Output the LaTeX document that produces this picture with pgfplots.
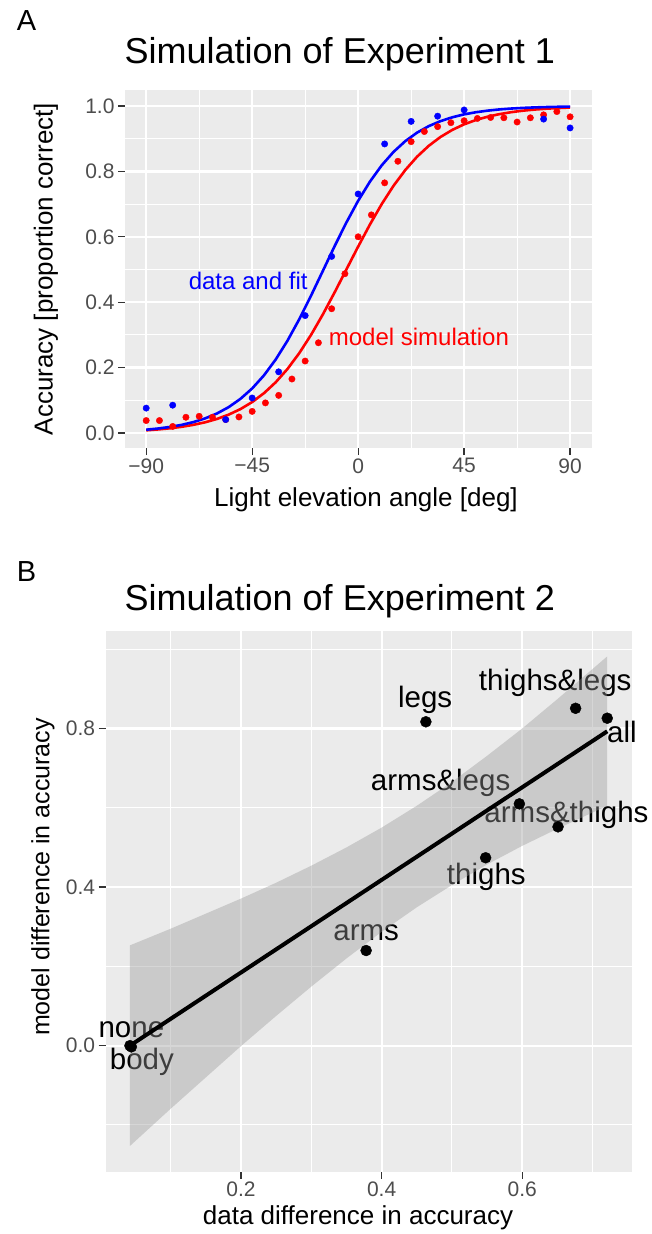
\documentclass[border=0pt]{standalone}
\usepackage{fontspec}
\setmainfont{Liberation Sans}
\usepackage{pgfplots}
\pgfplotsset{compat=1.18}
\definecolor{panelbg}{HTML}{EBEBEB}
\definecolor{tickgray}{HTML}{333333}
\definecolor{labgray}{HTML}{4D4D4D}
\newcommand{\fs}[1]{\fontsize{#1}{#1}\selectfont}
\pgfplotsset{gg/.style={
  scale only axis,
  anchor=south west,
  axis background/.style={fill=panelbg},
  axis line style={draw=none},
  grid=both,
  major grid style={white, line width=2.2pt},
  minor grid style={white, line width=1.1pt},
  tick style={tickgray, line width=1.3pt},
  major tick length=7pt,
  minor tick length=0pt,
  tick align=outside,
  tick pos=left,
  ticklabel style={text=labgray, font=\fs{21}},
  /pgf/number format/assume math mode=true,
}}
\begin{document}
\begin{tikzpicture}
\useasboundingbox (0pt,0pt) rectangle (651pt,-1234pt);
% ---------------- Panel A ----------------
\begin{axis}[gg, at={(125pt,-448pt)}, width=467pt, height=358pt,
  xmin=-99, xmax=99.3, ymin=-0.046, ymax=1.049,
  xtick={-90,-45,0,45,90}, xticklabels={−90,−45,0,45,90},
  minor xtick={-67.5,-22.5,22.5,67.5},
  ytick={0,0.2,0.4,0.6,0.8,1}, yticklabels={0.0,0.2,0.4,0.6,0.8,1.0},
  minor ytick={0.1,0.3,0.5,0.7,0.9},
  clip=false]
% model simulation fit
\addplot[red, line width=2.6pt, no marks] coordinates {
(-90,0.0081) (-85,0.0108) (-80,0.0142) (-75,0.0188) (-70,0.0248) (-65,0.0326)
(-60,0.0428) (-55,0.0560) (-50,0.0729) (-45,0.0945) (-40,0.1216) (-35,0.1551)
(-30,0.1958) (-25,0.2442) (-20,0.3000) (-15,0.3624) (-10,0.4299) (-5,0.5000)
(0,0.5701) (5,0.6376) (10,0.7000) (15,0.7558) (20,0.8041) (25,0.8449)
(30,0.8784) (35,0.9055) (40,0.9271) (45,0.9440) (50,0.9572) (55,0.9674)
(60,0.9752) (65,0.9812) (70,0.9858) (75,0.9892) (80,0.9919) (85,0.9938) (90,0.9954)};
% data fit
\addplot[blue, line width=2.6pt, no marks] coordinates {
(-90,0.0100) (-85,0.0136) (-80,0.0183) (-75,0.0247) (-70,0.0332) (-65,0.0445)
(-60,0.0594) (-55,0.0789) (-50,0.1042) (-45,0.1361) (-40,0.1761) (-35,0.2248)
(-30,0.2823) (-25,0.3480) (-20,0.4200) (-15,0.4955) (-10,0.5713) (-5,0.6436)
(0,0.7102) (5,0.7687) (10,0.8185) (15,0.8595) (20,0.8925) (25,0.9185)
(30,0.9386) (35,0.9539) (40,0.9656) (45,0.9745) (50,0.9810) (55,0.9859)
(60,0.9896) (65,0.9923) (70,0.9943) (75,0.9958) (80,0.9969) (85,0.9977) (90,0.9983)};
% model simulation points
\addplot[only marks, mark=*, mark size=3.2pt, color=red] coordinates {
(-90,0.038) (-84.375,0.038) (-78.75,0.020) (-73.125,0.048) (-67.5,0.051)
(-61.875,0.048) (-56.25,0.041) (-50.625,0.049) (-45,0.066) (-39.375,0.092)
(-33.75,0.115) (-28.125,0.165) (-22.5,0.220) (-16.875,0.276) (-11.25,0.380)
(-5.625,0.487) (0,0.600) (5.625,0.667) (11.25,0.765) (16.875,0.831)
(22.5,0.891) (28.125,0.922) (33.75,0.937) (39.375,0.949) (45,0.955)
(50.625,0.962) (56.25,0.965) (61.875,0.964) (67.5,0.951) (73.125,0.964)
(78.75,0.973) (84.375,0.983) (90,0.967)};
% data points
\addplot[only marks, mark=*, mark size=3.2pt, color=blue] coordinates {
(-90,0.076) (-78.75,0.085) (-56.25,0.041) (-45,0.107) (-33.75,0.187)
(-22.5,0.359) (-11.25,0.540) (0,0.731) (11.25,0.884) (22.5,0.953)
(33.75,0.969) (45,0.988) (78.75,0.960) (90,0.933)};
\node[text=blue, font=\fs{24}] at (axis cs:-46.7,0.465) {data and fit};
\node[text=red, font=\fs{24}] at (axis cs:25.8,0.2945) {model simulation};
\end{axis}
% ---------------- Panel B ----------------
\begin{axis}[gg, at={(105.7pt,-1171.7pt)}, width=526pt, height=540.7pt,
  xmin=0.0075, xmax=0.7558, ymin=-0.318, ymax=1.046,
  xtick={0.2,0.4,0.6}, xticklabels={0.2,0.4,0.6},
  minor xtick={0.1,0.3,0.5,0.7},
  ytick={0,0.4,0.8}, yticklabels={0.0,0.4,0.8},
  minor ytick={-0.2,0.2,0.6,1.0},
  clip=false]
\addplot[only marks, mark=*, mark size=5.5pt, color=black] coordinates {
(0.042,0.0) (0.044,-0.003) (0.378,0.240) (0.463,0.817) (0.548,0.474)
(0.596,0.610) (0.651,0.552) (0.676,0.851) (0.721,0.826)};
\node[font=\fs{29.5}] at (axis cs:0.462,0.872) {legs};
\node[font=\fs{29.5}] at (axis cs:0.647,0.914) {thighs\&legs};
\node[font=\fs{29.5}] at (axis cs:0.742,0.792) {all};
\node[font=\fs{29.5}] at (axis cs:0.484,0.662) {arms\&legs};
\node[font=\fs{29.5}] at (axis cs:0.663,0.582) {arms\&thighs};
\node[font=\fs{29.5}] at (axis cs:0.549,0.426) {thighs};
\node[font=\fs{29.5}] at (axis cs:0.378,0.284) {arms};
\node[font=\fs{29.5}] at (axis cs:0.044,0.040) {none};
\node[font=\fs{29.5}] at (axis cs:0.059,-0.042) {body};
% confidence ribbon
\addplot[draw=none, fill=black!40, fill opacity=0.4] coordinates {
(0.042,0.253) (0.1,0.295) (0.15,0.333) (0.2,0.371) (0.25,0.411) (0.3,0.454)
(0.35,0.500) (0.4,0.550) (0.45,0.605) (0.5,0.665) (0.55,0.731) (0.6,0.800)
(0.65,0.874) (0.7,0.950) (0.721,0.982)
(0.721,0.605) (0.7,0.588) (0.65,0.547) (0.6,0.504) (0.55,0.457) (0.5,0.405)
(0.45,0.349) (0.4,0.287) (0.35,0.220) (0.3,0.149) (0.25,0.075) (0.2,-0.001)
(0.15,-0.080) (0.1,-0.159) (0.042,-0.253)} -- cycle;
% regression line
\addplot[black, line width=4pt, no marks] coordinates {(0.042,0.0) (0.721,0.793)};
\end{axis}
% ---------------- titles and labels ----------------
\node[anchor=base west, font=\fs{29}, inner sep=0pt] at (16.6pt,-30.5pt) {A};
\node[anchor=base west, font=\fs{36}, inner sep=0pt] at (124.5pt,-63pt) {Simulation of Experiment 1};
\node[font=\fs{26}] at (366pt,-500pt) {Light elevation angle [deg]};
\node[font=\fs{26}, rotate=90] at (46pt,-269pt) {Accuracy [proportion correct]};
\node[anchor=base west, font=\fs{29}, inner sep=0pt] at (16.6pt,-581pt) {B};
\node[anchor=base west, font=\fs{36}, inner sep=0pt] at (124.5pt,-610pt) {Simulation of Experiment 2};
\node[font=\fs{26}] at (358pt,-1218pt) {data difference in accuracy};
\node[font=\fs{25}, rotate=90] at (43pt,-877pt) {model difference in accuracy};
\end{tikzpicture}
\end{document}
